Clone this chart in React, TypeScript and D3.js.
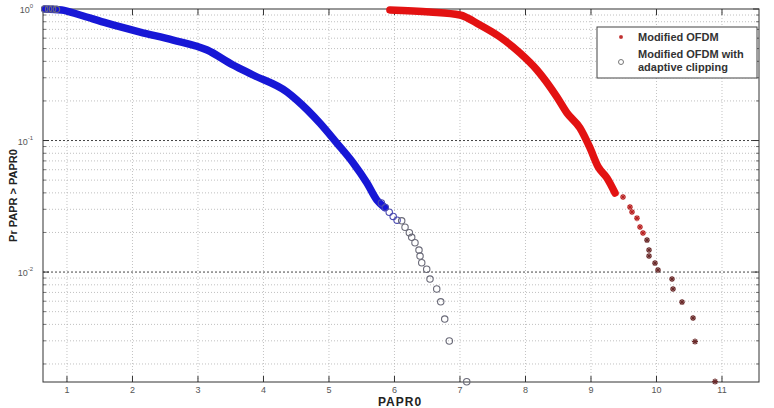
import React from "react";
import * as d3 from "d3";

// ---------- data ----------
const X_TICKS = [1, 2, 3, 4, 5, 6, 7, 8, 9, 10, 11];
const Y_DECADES = [0, -1, -2];
const X_DOMAIN = [0.634, 11.565];
const Y_DOMAIN = [0.001459, 1];

// Modified OFDM with adaptive clipping (circles) - dense band part
const blueBandX = [0.66, 0.92, 1.2, 1.61, 2.115, 2.62, 3.14, 3.535, 3.84, 4.36, 4.51, 4.86, 5.12, 5.37, 5.58, 5.73, 5.85];
const blueBandP = [1.0, 0.983, 0.9, 0.78, 0.668, 0.581, 0.488, 0.375, 0.315, 0.234, 0.203, 0.136, 0.0957, 0.0675, 0.0475, 0.0353, 0.031];
// sparse tail (individual circles)
const blueTailX = [0.66, 0.72, 0.78, 0.84, 5.8, 5.86, 5.92, 5.98, 6.04, 6.11, 6.161, 6.227, 6.263, 6.313, 6.374, 6.39, 6.416, 6.492, 6.542, 6.645, 6.706, 6.767, 6.837, 7.103];
const blueTailP = [1.0, 1.0, 1.0, 0.995, 0.0335, 0.031, 0.0285, 0.0265, 0.0248, 0.0245, 0.0219, 0.0199, 0.01836, 0.0167, 0.0147, 0.01323, 0.01177, 0.0105, 0.00885, 0.00743, 0.00594, 0.00439, 0.00299, 0.001465];

// Modified OFDM (stars) - dense band part
const redBandX = [5.93, 6.54, 7.0, 7.305, 7.611, 7.916, 8.176, 8.481, 8.634, 8.832, 8.98, 9.11, 9.244, 9.367];
const redBandP = [0.983, 0.949, 0.9, 0.755, 0.612, 0.463, 0.344, 0.214, 0.162, 0.1245, 0.089, 0.063, 0.0519, 0.0399];
// sparse tail (individual stars)
const redTailX = [9.489, 9.595, 9.626, 9.702, 9.748, 9.794, 9.855, 9.886, 9.886, 9.977, 10.023, 10.237, 10.252, 10.39, 10.558, 10.588, 10.894];
const redTailP = [0.0372, 0.0312, 0.0286, 0.0257, 0.022, 0.0198, 0.0175, 0.0147, 0.01323, 0.0117, 0.01036, 0.00885, 0.00743, 0.00591, 0.00447, 0.00296, 0.00147];

const LEGEND = ["Modified OFDM", "Modified OFDM with", "adaptive clipping"];
const X_LABEL = "PAPR0";
const Y_LABEL = "Pr PAPR > PAPR0";

// ---------- layout ----------
const W = 774, H = 408;
const L = 43, R = 759, T = 9, B = 382;

const BLUE = "#1717d6";
const RED = "#e31212";
const FONT = "'Liberation Sans', Arial, sans-serif";

function Star({ x, y, s, color }: { x: number; y: number; s: number; color: string }) {
  const d = s * 0.7;
  return (
    <g stroke={color} strokeWidth={1.3}>
      <line x1={x - s} y1={y} x2={x + s} y2={y} />
      <line x1={x} y1={y - s} x2={x} y2={y + s} />
      <line x1={x - d} y1={y - d} x2={x + d} y2={y + d} />
      <line x1={x - d} y1={y + d} x2={x + d} y2={y - d} />
    </g>
  );
}

export default function App() {
  const x = d3.scaleLinear().domain(X_DOMAIN).range([L, R]);
  const y = d3.scaleLog().domain(Y_DOMAIN).range([B, T]);

  const minorY: number[] = [];
  for (const e of [-3, -2, -1]) {
    for (let k = 2; k <= 9; k++) {
      const v = k * Math.pow(10, e);
      if (v >= Y_DOMAIN[0]) minorY.push(v);
    }
  }
  const majorY = Y_DECADES.map((e) => Math.pow(10, e));

  const lineGen = d3.line<[number, number]>().x((d) => x(d[0])).y((d) => y(d[1])).curve(d3.curveMonotoneX);
  const bluePath = lineGen(blueBandX.map((v, i) => [v, blueBandP[i]] as [number, number]));
  const redPath = lineGen(redBandX.map((v, i) => [v, redBandP[i]] as [number, number]));

  return (
    <svg width={W} height={H} style={{ position: "absolute", left: 0, top: 0, background: "#fff" }} fontFamily={FONT}>
      <rect x={0} y={0} width={W} height={H} fill="#fff" />
      {/* grid */}
      {X_TICKS.map((t) => (
        <line key={"gx" + t} x1={x(t)} x2={x(t)} y1={T} y2={B} stroke="#b4b4b4" strokeWidth={0.8} strokeDasharray="1,2" />
      ))}
      {minorY.map((v) => (
        <line key={"gy" + v} x1={L} x2={R} y1={y(v)} y2={y(v)} stroke="#b0b0b0" strokeWidth={0.8} strokeDasharray="1,2" />
      ))}
      {majorY.slice(1).map((v) => (
        <line key={"gm" + v} x1={L} x2={R} y1={y(v)} y2={y(v)} stroke="#444" strokeWidth={1} strokeDasharray="2,2" />
      ))}
      {/* ticks */}
      {X_TICKS.map((t) => (
        <g key={"tx" + t} stroke="#333" strokeWidth={1}>
          <line x1={x(t)} x2={x(t)} y1={B} y2={B - 6} />
          <line x1={x(t)} x2={x(t)} y1={T} y2={T + 6} />
        </g>
      ))}
      {minorY.map((v) => (
        <g key={"ty" + v} stroke="#555" strokeWidth={0.8}>
          <line x1={L} x2={L + 3} y1={y(v)} y2={y(v)} />
          <line x1={R} x2={R - 3} y1={y(v)} y2={y(v)} />
        </g>
      ))}
      {majorY.map((v) => (
        <g key={"tym" + v} stroke="#333" strokeWidth={1}>
          <line x1={L} x2={L + 6} y1={y(v)} y2={y(v)} />
          <line x1={R} x2={R - 6} y1={y(v)} y2={y(v)} />
        </g>
      ))}
      {/* frame */}
      <rect x={L} y={T} width={R - L} height={B - T} fill="none" stroke="#333" strokeWidth={1} />

      {/* blue series */}
      <path d={bluePath || ""} fill="none" stroke={BLUE} strokeWidth={7.5} strokeLinecap="round" strokeLinejoin="round" />
      {blueTailX.map((v, i) => (
        <circle key={"bc" + i} cx={x(v)} cy={y(blueTailP[i])} r={3.2} fill="none"
          stroke={i < 4 ? "#6a6a7a" : i < 9 ? "#4a4ab0" : "#6a6a78"} strokeWidth={1.1} />
      ))}
      {/* red series */}
      <path d={redPath || ""} fill="none" stroke={RED} strokeWidth={7.5} strokeLinecap="round" strokeLinejoin="round" />
      {redTailX.map((v, i) => (
        <Star key={"rs" + i} x={x(v)} y={y(redTailP[i])} s={3} color={i < 6 ? "#b82020" : "#6a2a2a"} />
      ))}

      {/* tick labels */}
      {X_TICKS.map((t) => (
        <text key={"lx" + t} x={x(t)} y={393} fontSize={9} fill="#555" textAnchor="middle">{t}</text>
      ))}
      {Y_DECADES.map((e) => (
        <text key={"ly" + e} x={33} y={y(Math.pow(10, e)) + 4} fontSize={9} fill="#555" textAnchor="end">
          10<tspan fontSize={6} dy={-5}>{e}</tspan>
        </text>
      ))}

      {/* axis labels */}
      <text x={400} y={406} fontSize={12} fontWeight="bold" fill="#222" textAnchor="middle" letterSpacing={1}>{X_LABEL}</text>
      <text transform={`translate(17,${(T + B) / 2}) rotate(-90)`} fontSize={11} fontWeight="bold" fill="#222" textAnchor="middle">{Y_LABEL}</text>

      {/* legend */}
      <rect x={597} y={27} width={160} height={51} fill="#fff" stroke="#444" strokeWidth={1} />
      <Star x={621} y={37} s={2} color="#c03030" />
      <circle cx={621} cy={62} r={2.5} fill="none" stroke="#777" strokeWidth={1} />
      <text x={638} y={41} fontSize={11} fontWeight="bold" fill="#333">{LEGEND[0]}</text>
      <text x={638} y={58} fontSize={11} fontWeight="bold" fill="#333">{LEGEND[1]}</text>
      <text x={638} y={71} fontSize={11} fontWeight="bold" fill="#333">{LEGEND[2]}</text>
    </svg>
  );
}
